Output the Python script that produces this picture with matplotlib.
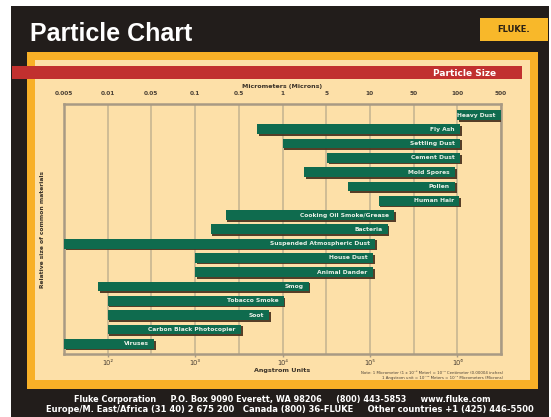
import matplotlib
matplotlib.use("Agg")
import matplotlib.pyplot as plt
import matplotlib.patheffects as pe
from matplotlib.patches import Rectangle

# Size scale (evenly spaced tick positions on the chart)
micron_labels = ["0.005", "0.01", "0.05", "0.1", "0.5", "1", "5", "10", "50", "100", "500"]
angstrom_pos = [1, 3, 5, 7, 9]
angstrom_labels = ["10²", "10³", "10⁴", "10⁵", "10⁶"]

# Materials and their size ranges, expressed in tick-index units
materials = [
    "Heavy Dust", "Fly Ash", "Settling Dust", "Cement Dust", "Mold Spores",
    "Pollen", "Human Hair", "Cooking Oil Smoke/Grease", "Bacteria",
    "Suspended Atmospheric Dust", "House Dust", "Animal Dander", "Smog",
    "Tobacco Smoke", "Soot", "Carbon Black Photocopier", "Viruses",
]
range_start = [9.0, 4.42, 5.0, 6.02, 5.5, 6.5, 7.2, 3.7, 3.36, 0.0, 3.0, 3.0,
               0.78, 1.0, 1.0, 1.0, 0.0]
range_end = [10.0, 9.06, 9.06, 9.06, 8.95, 8.95, 9.04, 7.55, 7.41, 7.12, 7.07,
             7.07, 5.6, 5.03, 4.7, 4.05, 2.06]

W, H = 551, 417
fig = plt.figure(figsize=(W / 100, H / 100), dpi=100)
fig.patch.set_facecolor("white")


def px_rect(x0, y0, x1, y1, color, z=0):
    fig.patches.append(Rectangle((x0 / W, 1 - y1 / H), (x1 - x0) / W, (y1 - y0) / H,
                                 transform=fig.transFigure, facecolor=color,
                                 edgecolor="none", zorder=z))


def px_text(x, y, s, **kw):
    fig.text(x / W, 1 - y / H, s, **kw)


# Background panels
px_rect(11, 6, 549, 417, "#221d1b", 0)
px_rect(27, 52, 538, 389, "#f8b027", 1)
px_rect(35, 60, 530, 380, "#fde0a8", 2)
px_rect(12, 66, 522, 79, "#c1302f", 3)
px_rect(480, 18, 548, 41, "#f8b82a", 3)

px_text(30, 34, "Particle Chart", color="white", fontsize=18, fontweight="bold",
        family="Liberation Sans", va="center", ha="left", zorder=5)
px_text(514, 30, "FLUKE.", color="#2a2115", fontsize=6, fontweight="bold",
        va="center", ha="center", zorder=5)
px_text(496, 73, "Particle Size", color="white", fontsize=6.5, fontweight="bold",
        va="center", ha="right", zorder=5)

px_text(282, 400, "Fluke Corporation     P.O. Box 9090 Everett, WA 98206     (800) 443-5853     www.fluke.com",
        color="white", fontsize=5.9, fontweight="bold", ha="center", va="center", zorder=5)
px_text(290, 410, "Europe/M. East/Africa (31 40) 2 675 200   Canada (800) 36-FLUKE     Other countries +1 (425) 446-5500",
        color="white", fontsize=6.0, fontweight="bold", ha="center", va="center", zorder=5)

# Chart axes
ax = fig.add_axes([64 / W, 1 - 354 / H, 437 / W, 250 / H], zorder=10)
ax.set_facecolor("none")
n = len(materials)
ypos = list(range(n))
ax.set_xlim(0, 10)
ax.set_ylim(n - 1 + 0.72, -0.77)

ax.set_xticks(range(len(micron_labels)))
ax.set_xticklabels(micron_labels)
ax.xaxis.tick_top()
ax.tick_params(axis="x", length=0, pad=6, labelsize=4.2, labelcolor="#4a4035")
for lab in ax.get_xticklabels():
    lab.set_fontweight("bold")
ax.set_yticks([])
ax.grid(axis="x", color="#c8b692", linewidth=1.2, zorder=0)
ax.set_axisbelow(True)
for sp in ax.spines.values():
    sp.set_color("#a89a84")
    sp.set_linewidth(1.8)

ax.set_xlabel("Micrometers (Microns)", fontsize=4.5, fontweight="bold",
              color="#3a3228", labelpad=2)
ax.xaxis.set_label_position("top")
ax.set_ylabel("Relative size of common materials", fontsize=4.3, fontweight="bold",
              color="#3a3228", labelpad=14)

sec = ax.secondary_xaxis("bottom")
sec.set_xticks(angstrom_pos)
sec.set_xticklabels(angstrom_labels)
sec.tick_params(length=2.5, width=1, color="#a89a84", labelsize=4.8,
                labelcolor="#4a4035", pad=1.5)
sec.spines["bottom"].set_visible(False)
sec.set_xlabel("Angstrom Units", fontsize=4.6, fontweight="bold", color="#3a3228",
               labelpad=2)

widths = [e - s for s, e in zip(range_start, range_end)]
bars = ax.barh(ypos, widths, left=range_start, height=0.68, color="#0f6b4e",
               edgecolor="none", zorder=3)
for b in bars:
    b.set_path_effects([pe.SimplePatchShadow(offset=(1.2, -1.2),
                                             shadow_rgbFace="#4d3520", alpha=0.95),
                        pe.Normal()])
for y, e, name in zip(ypos, range_end, materials):
    ax.text(e - 0.12, y, name, ha="right", va="center", color="#e8efe6",
            fontsize=4.3, fontweight="bold", zorder=4)

px_text(503, 372.5, "Note: 1 Micrometer (1 x 10⁻⁶ Meter) = 10⁻⁴ Centimeter (0.00004 inches)",
        fontsize=2.8, color="#4a4035", ha="right", va="center", zorder=5)
px_text(503, 377.5, "1 Angstrom unit = 10⁻¹⁰ Meters = 10⁻⁴ Micrometers (Microns)",
        fontsize=2.8, color="#4a4035", ha="right", va="center", zorder=5)

fig.savefig("out.png", dpi=100, facecolor=fig.get_facecolor())
